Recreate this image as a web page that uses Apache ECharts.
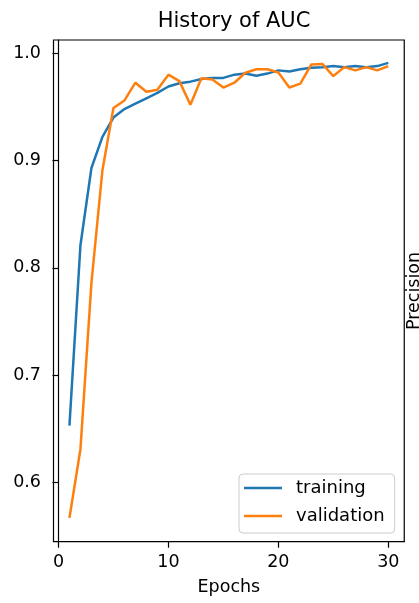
<!DOCTYPE html>
<html>
<head>
<meta charset="utf-8">
<script src="https://cdn.jsdelivr.net/npm/echarts@6/dist/echarts.min.js"></script>
<style>
html,body{margin:0;padding:0;background:#fff;}
#c{width:419px;height:603px;}
</style>
</head>
<body>
<div id="c"></div>
<script>
const epochs = [1,2,3,4,5,6,7,8,9,10,11,12,13,14,15,16,17,18,19,20,21,22,23,24,25,26,27,28,29,30];
const training = [0.653,0.821,0.893,0.922,0.940,0.948,0.953,0.958,0.963,0.969,0.972,0.9735,0.976,0.977,0.977,0.980,0.981,0.979,0.981,0.984,0.983,0.985,0.9864,0.987,0.988,0.987,0.988,0.987,0.988,0.991];
const validation = [0.567,0.631,0.786,0.891,0.949,0.956,0.9725,0.964,0.966,0.980,0.974,0.952,0.9766,0.9756,0.968,0.9725,0.9818,0.985,0.985,0.982,0.968,0.9716,0.9895,0.990,0.9787,0.987,0.984,0.987,0.984,0.988];
const yTicks = [0.6,0.7,0.8,0.9,1.0];
const xTicks = [0,10,20,30];
const seriesNames = ['training','validation'];

const font = 'DejaVu Sans';
const fs = 17.5;
const chart = echarts.init(document.getElementById('c'), null, {renderer:'canvas'});
chart.setOption({
  animation:false,
  backgroundColor:'#fff',
  title:{text:'History of AUC', left:229, top:6, textAlign:'center',
    textStyle:{fontFamily:font, fontSize:21, fontWeight:'normal', color:'#000'}},
  grid:{left:53.5, right:14.75, top:40, bottom:61.3, show:true, borderColor:'#000', borderWidth:1.2, backgroundColor:'transparent'},
  legend:{
    orient:'vertical', left:239, top:474, data:seriesNames,
    icon:'rect', itemWidth:38, itemHeight:2.5, itemGap:8,
    padding:[4,10,7,5],
    backgroundColor:'rgba(255,255,255,0.8)', borderColor:'#cccccc', borderWidth:1, borderRadius:4,
    textStyle:{fontFamily:font, fontSize:18, color:'#000', lineHeight:20, padding:[0,0,0,9]}
  },
  xAxis:{type:'value', min:-0.45, max:31.45,
    name:'Epochs', nameLocation:'middle', nameGap:37,
    nameTextStyle:{fontFamily:font, fontSize:fs, color:'#000'},
    axisLine:{show:true, lineStyle:{color:'#000', width:1.2}},
    axisTick:{show:true, inside:false, length:6, customValues:xTicks, lineStyle:{color:'#000', width:1.2}},
    axisLabel:{customValues:xTicks, margin:12, fontFamily:font, fontSize:fs, color:'#000', formatter:v=>String(Math.round(v))},
    splitLine:{show:false}},
  yAxis:{type:'value', min:0.5448, max:1.0123,
    axisLine:{show:true, lineStyle:{color:'#000', width:1.2}},
    axisTick:{show:true, inside:false, length:6, customValues:yTicks, lineStyle:{color:'#000', width:1.2}},
    axisLabel:{customValues:yTicks, margin:12.5, fontFamily:font, fontSize:fs, color:'#000', formatter:v=>v.toFixed(1)},
    splitLine:{show:false}},
  graphic:[{type:'text', x:405.5, y:291, rotation:Math.PI/2,
    style:{text:'Precision', fontFamily:font, fontSize:fs, fill:'#000', textAlign:'center', textVerticalAlign:'top'}}],
  series:[
    {name:seriesNames[0], type:'line', data:epochs.map((e,i)=>[e,training[i]]), symbol:'none', showSymbol:false,
      color:'#1f77b4', lineStyle:{color:'#1f77b4', width:2.5}},
    {name:seriesNames[1], type:'line', data:epochs.map((e,i)=>[e,validation[i]]), symbol:'none', showSymbol:false,
      color:'#ff7f0e', lineStyle:{color:'#ff7f0e', width:2.5}}
  ]
});
</script>
</body>
</html>
